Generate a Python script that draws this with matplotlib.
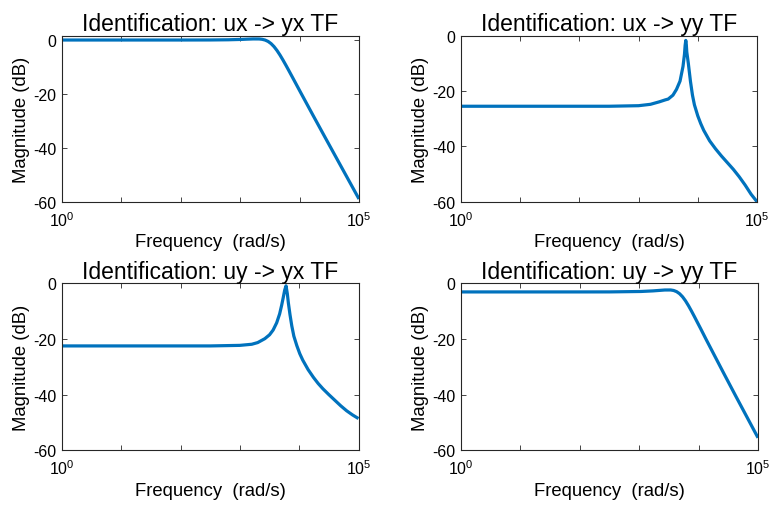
import numpy as np
import matplotlib
matplotlib.use("Agg")
import matplotlib.pyplot as plt
from matplotlib.ticker import FixedLocator, FixedFormatter, NullLocator

plt.rcParams['font.family'] = ['Liberation Sans', 'DejaVu Sans']
plt.rcParams['mathtext.fontset'] = 'custom'
plt.rcParams['mathtext.rm'] = 'Liberation Sans'
plt.rcParams['mathtext.it'] = 'Liberation Sans:italic'

# ---- data (log10 of frequency in rad/s, magnitude in dB) ----
titles = ["Identification: ux -> yx TF", "Identification: ux -> yy TF",
          "Identification: uy -> yx TF", "Identification: uy -> yy TF"]

ux_yx_logw = [0, 1, 2, 2.5, 2.8, 3.02, 3.12, 3.22, 3.32, 3.37, 3.42, 3.47, 3.52,
              3.57, 3.62, 3.67, 3.72, 3.77, 3.82, 3.87, 3.92, 3.97, 4.02, 4.22,
              4.42, 4.62, 4.82, 5.0]
ux_yx_db = [0, 0, 0, 0.02, 0.09, 0.22, 0.32, 0.40, 0.39, 0.26, -0.02, -0.53, -1.34,
            -2.47, -3.91, -5.58, -7.43, -9.38, -11.39, -13.43, -15.47, -17.52,
            -19.57, -27.70, -35.76, -43.78, -51.79, -59.0]

ux_yy_logw = [0, 1, 2, 2.5, 3.0, 3.2, 3.35, 3.45, 3.5, 3.58, 3.64, 3.70, 3.75,
              3.775, 3.786, 3.797, 3.806, 3.814, 3.84, 3.876, 3.91, 3.943, 4.0,
              4.05, 4.1, 4.2, 4.3, 4.4, 4.5, 4.6, 4.7, 4.8, 4.9, 5.0]
ux_yy_db = [-25.5, -25.5, -25.5, -25.5, -25.3, -24.8, -23.9, -23.2, -22.9, -21.5,
            -19.4, -16.4, -11.1, -6.7, -3.5, -1.7, -3.2, -5.9, -10.0, -16.5,
            -21.5, -25.0, -29.0, -31.8, -34.2, -38.0, -40.9, -43.5, -45.9, -48.3,
            -51.0, -54.0, -57.3, -60.0]

uy_yx_logw = [0, 1, 2, 2.5, 3.0, 3.2, 3.3, 3.42, 3.5, 3.56, 3.62, 3.67, 3.705,
              3.73, 3.755, 3.778, 3.80, 3.817, 3.845, 3.875, 3.91, 3.96, 4.01,
              4.06, 4.15, 4.24, 4.32, 4.4, 4.5, 4.6, 4.7, 4.8, 4.9, 5.0]
uy_yx_db = [-22.5, -22.5, -22.5, -22.5, -22.3, -21.9, -21.3, -19.9, -18.5, -16.8,
            -14.2, -11.0, -7.8, -5.2, -2.5, -0.9, -3.8, -7.0, -11.3, -15.3, -19.0,
            -22.4, -25.3, -27.6, -31.0, -33.8, -36.0, -37.9, -40.0, -42.0, -44.0,
            -45.8, -47.3, -48.6]

uy_yy_logw = [0, 1, 2, 2.5, 3.03, 3.23, 3.33, 3.43, 3.53, 3.58, 3.63, 3.68, 3.73,
              3.78, 3.83, 3.88, 3.93, 3.98, 4.03, 4.13, 4.23, 4.43, 4.63, 4.83, 5.0]
uy_yy_db = [-3.1, -3.1, -3.1, -3.09, -2.94, -2.73, -2.57, -2.41, -2.40, -2.58,
            -3.0, -3.74, -4.85, -6.31, -8.05, -9.97, -11.98, -14.05, -16.1, -20.3,
            -24.4, -32.6, -40.7, -48.7, -55.5]

series = [(ux_yx_logw, ux_yx_db), (ux_yy_logw, ux_yy_db),
          (uy_yx_logw, uy_yx_db), (uy_yy_logw, uy_yy_db)]
ylims = [(-60, 1.6), (-60, 0), (-60, 0), (-60, 0)]
yticks = [0, -20, -40, -60]
xdecades = [1e0, 1e1, 1e2, 1e3, 1e4, 1e5]
xlabels = [r"$\mathregular{10^{0}}$", "", "", "", "", r"$\mathregular{10^{5}}$"]

W, H = 769, 506
fig = plt.figure(figsize=(W / 100, H / 100), dpi=100)
# axes boxes in pixels: left, top, right, bottom
boxes = [(62, 36.7, 359, 202.7), (461, 36.7, 757, 202.7),
         (62, 284.3, 358.5, 451.3), (461, 284.3, 758, 451.3)]

blue = (0, 0.447, 0.741)
for (l, t, r, b), (lw, db), title, yl in zip(boxes, series, titles, ylims):
    ax = fig.add_axes([l / W, 1 - b / H, (r - l) / W, (b - t) / H])
    ax.semilogx(10 ** np.array(lw), db, color=blue, lw=2.3,
                solid_joinstyle='round', solid_capstyle='butt', clip_on=True)
    ax.set_xlim(1, 1e5)
    ax.set_ylim(*yl)
    ax.xaxis.set_major_locator(FixedLocator(xdecades))
    ax.xaxis.set_major_formatter(FixedFormatter(xlabels))
    ax.xaxis.set_minor_locator(NullLocator())
    ax.set_yticks(yticks)
    ax.set_yticklabels([str(v) for v in yticks])
    ax.tick_params(direction='in', length=3.5, width=0.6, top=True, right=True,
                   labelsize=11.5, colors='0.15', labelcolor='black', pad=4)
    ax.tick_params(axis='x', pad=6)
    for s in ax.spines.values():
        s.set_color('0.15')
        s.set_linewidth(0.8)
    ax.set_title(title, fontsize=16.5, pad=4)
    ax.set_xlabel("Frequency  (rad/s)", fontsize=13.3, labelpad=3)
    ax.set_ylabel("Magnitude (dB)", fontsize=13.3, labelpad=2)

fig.savefig("out.png", dpi=100)
